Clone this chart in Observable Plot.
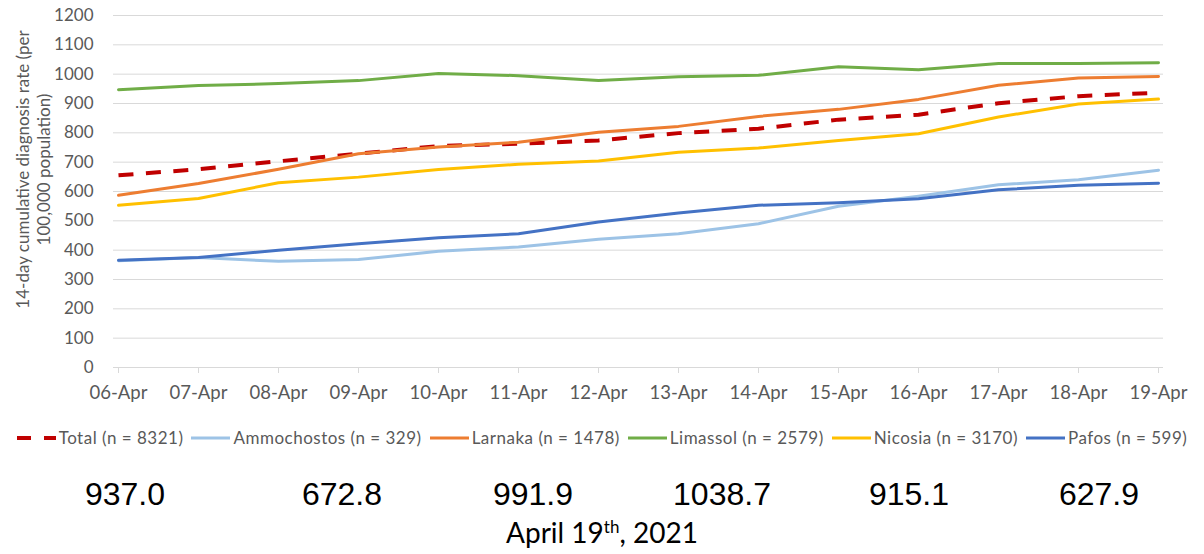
<!DOCTYPE html>
<html>
<head>
<meta charset="utf-8">
<script src="https://cdn.jsdelivr.net/npm/d3@7"></script>
<script src="https://cdn.jsdelivr.net/npm/@observablehq/plot@0.6"></script>
<style>
  body { margin: 0; background: #fff; }
  #wrap { position: relative; width: 1204px; height: 554px; background: #fff; font-family: Lato, sans-serif; overflow: hidden; }
  #legend { position: absolute; top: 427px; left: 0; width: 1204px; display: flex; justify-content: center; align-items: center; font-size: 17px; letter-spacing: 0.5px; color: #595959; white-space: nowrap; }
  .item { display: flex; align-items: center; margin: 0 4px; }
  .item svg { margin-right: 3px; }
  .val { position: absolute; top: 476px; font-family: Arial, "Liberation Sans", sans-serif; font-size: 32px; color: #000; transform: translateX(-50%); white-space: nowrap; }
  #date { position: absolute; top: 515px; left: 0; width: 1204px; text-align: center; font-family: Lato, sans-serif; font-size: 28px; color: #000; }
  #date sup { font-size: 17px; }
</style>
</head>
<body>
<div id="wrap">
  <div id="chart"></div>
  <div id="legend"></div>
  <div id="values"></div>
  <div id="date">April 19<sup>th</sup>, 2021</div>
</div>
<script>
// ---- data ----
const dates = ["06-Apr","07-Apr","08-Apr","09-Apr","10-Apr","11-Apr","12-Apr","13-Apr","14-Apr","15-Apr","16-Apr","17-Apr","18-Apr","19-Apr"];
const total       = [655, 676, 703, 729, 755, 763, 774, 799, 814, 845, 862, 901, 925, 937.0];
const ammochostos = [364, 375, 362, 368, 396, 411, 437, 456, 490, 550, 584, 623, 640, 672.8];
const larnaka     = [587, 627, 676, 729, 752, 768, 802, 822, 856, 880, 914, 962, 987, 991.9];
const limassol    = [947, 961, 968, 978, 1002, 995, 978, 991, 996, 1025, 1015, 1036, 1036, 1038.7];
const nicosia     = [553, 576, 630, 649, 675, 693, 704, 734, 748, 774, 797, 854, 898, 915.1];
const pafos       = [366, 375, 400, 422, 442, 456, 496, 527, 553, 562, 575, 606, 621, 627.9];
const seriesNames = ["Total (n = 8321)","Ammochostos (n = 329)","Larnaka (n = 1478)","Limassol (n = 2579)","Nicosia (n = 3170)","Pafos (n = 599)"];
const latestValues = ["937.0","672.8","991.9","1038.7","915.1","627.9"];
const yTicks = d3.range(0, 1201, 100);
const yLabel = "14-day cumulative diagnosis rate (per\n100,000 population)";

// ---- styles ----
const colors = ["#C00000","#9DC3E6","#ED7D31","#70AD47","#FFC000","#4472C4"];
const seriesValues = [total, ammochostos, larnaka, limassol, nicosia, pafos];
const dashes = ["15,12.5", null, null, null, null, null];
const widths = [4, 3, 3, 3, 3, 3];

const lineMarks = seriesValues.map((vals, i) => {
  const rows = dates.map((d, j) => ({date: d, value: vals[j]}));
  return Plot.line(rows, {
    x: "date", y: "value",
    stroke: colors[i], strokeWidth: widths[i],
    strokeDasharray: dashes[i] || undefined,
    strokeLinejoin: "round", strokeLinecap: dashes[i] ? "butt" : "round"
  });
});

const chart = Plot.plot({
  width: 1204, height: 405,
  marginLeft: 113, marginRight: 41, marginTop: 15, marginBottom: 38,
  style: {background: "#fff", color: "#595959", fontFamily: "Lato, sans-serif"},
  x: {type: "point", domain: dates, padding: 0},
  y: {domain: [0, 1200]},
  marks: [
    Plot.gridY(yTicks, {stroke: "#d9d9d9", strokeOpacity: 1, strokeWidth: 1}),
    Plot.ruleY([0], {stroke: "#d9d9d9", strokeWidth: 1}),
    Plot.axisX({tickSize: 6, tickPadding: 12, stroke: "#d9d9d9", fontSize: 18.5, label: null}),
    Plot.axisY({ticks: yTicks, tickSize: 0, tickPadding: 20, fontSize: 17, tickFormat: d => String(d), label: null}),
    Plot.text([yLabel], {text: d => d, frameAnchor: "left", rotate: -90, dx: -81, dy: -22, fontSize: 17, lineHeight: 1.27, fill: "#595959", textAnchor: "middle"}),
    ...lineMarks
  ]
});
document.getElementById("chart").appendChild(chart);

// ---- legend ----
const legend = document.getElementById("legend");
seriesNames.forEach((name, i) => {
  const item = document.createElement("div");
  item.className = "item";
  const dash = dashes[i] ? `stroke-dasharray="14,13"` : "";
  item.innerHTML = `<svg width="39" height="10"><line x1="0" y1="5" x2="39" y2="5" stroke="${colors[i]}" stroke-width="${widths[i]}" ${dash}/></svg><span>${name}</span>`;
  legend.appendChild(item);
});

// ---- latest values row ----
const valueCenters = [125, 342, 533, 722, 909, 1099];
const valuesDiv = document.getElementById("values");
latestValues.forEach((v, i) => {
  const s = document.createElement("div");
  s.className = "val";
  s.style.left = valueCenters[i] + "px";
  s.textContent = v;
  valuesDiv.appendChild(s);
});
</script>
</body>
</html>
